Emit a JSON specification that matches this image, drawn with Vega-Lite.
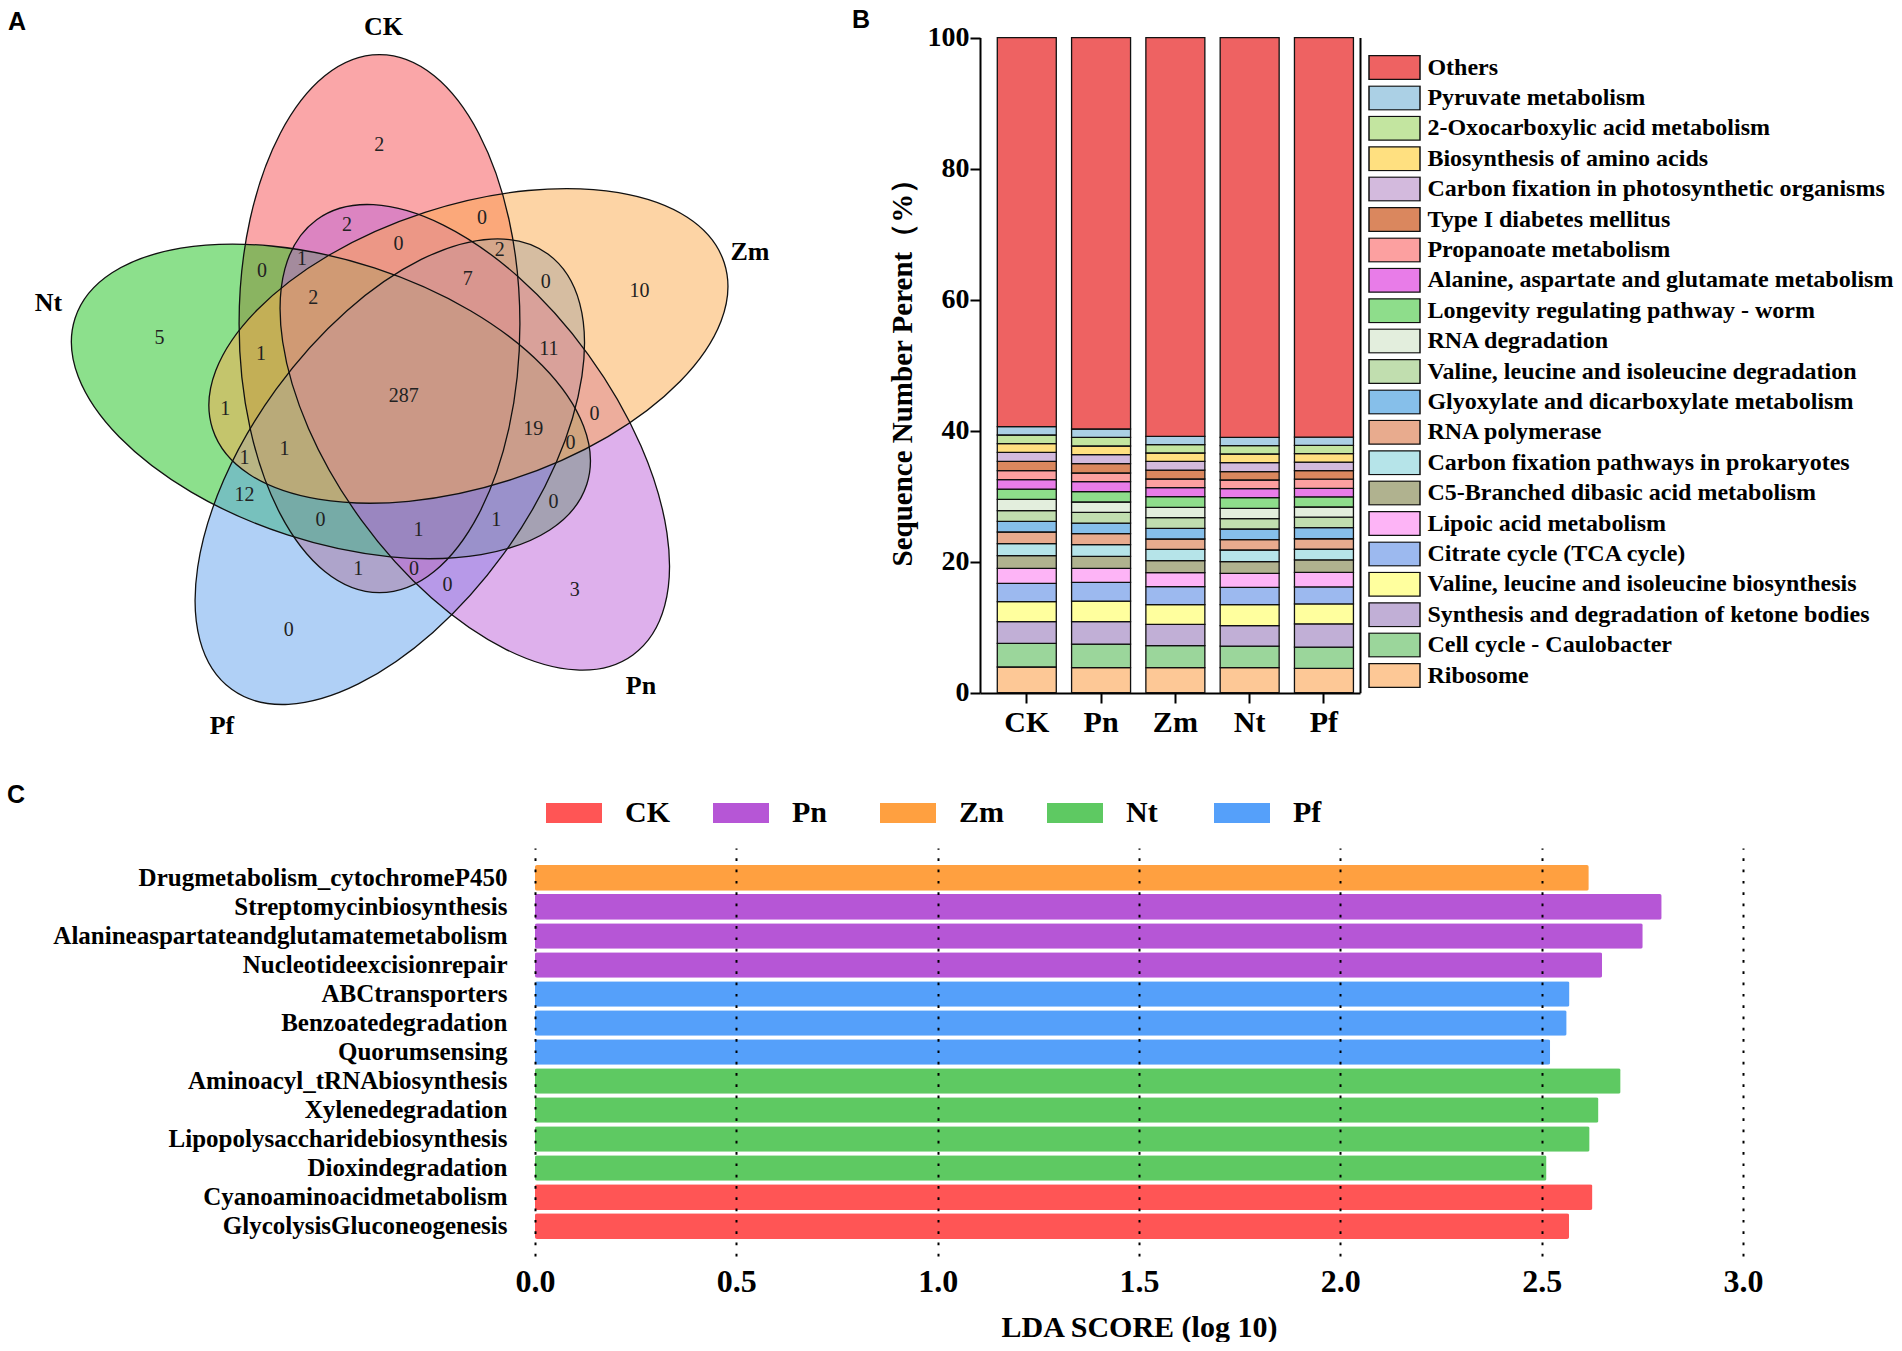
{
  "$schema": "https://vega.github.io/schema/vega-lite/v6.json",
  "padding": 0,
  "background": "white",
  "config": {"view": {"stroke": null}, "font": "Liberation Serif"},
  "columns": 2,
  "bounds": "flush",
  "spacing": {"row": 155, "column": 0},
  "resolve": {"scale": {"color": "independent", "fill": "independent"}, "legend": {"color": "independent", "fill": "independent"}},
  "datasets": {
    "venn_sets": [
      {"set": "CK", "cx": 379.5, "cy": 323.7, "rotation": 0},
      {"set": "Nt", "cx": 330.9, "cy": 401.4, "rotation": 288},
      {"set": "Pf", "cx": 389.8, "cy": 471.7, "rotation": 216},
      {"set": "Pn", "cx": 474.8, "cy": 437.3, "rotation": 144},
      {"set": "Zm", "cx": 468.4, "cy": 345.9, "rotation": 72}
    ],
    "venn_counts": [
      {"count": "2", "x": 379.3, "y": 145.2},
      {"count": "2", "x": 347.1, "y": 225.1},
      {"count": "0", "x": 482.0, "y": 218.4},
      {"count": "0", "x": 398.5, "y": 244.3},
      {"count": "2", "x": 499.8, "y": 250.1},
      {"count": "1", "x": 302.0, "y": 258.6},
      {"count": "0", "x": 261.9, "y": 271.1},
      {"count": "7", "x": 467.7, "y": 278.7},
      {"count": "0", "x": 545.8, "y": 282.2},
      {"count": "10", "x": 639.5, "y": 291.2},
      {"count": "2", "x": 313.2, "y": 297.9},
      {"count": "5", "x": 159.6, "y": 338.0},
      {"count": "1", "x": 261.0, "y": 353.7},
      {"count": "11", "x": 548.9, "y": 349.2},
      {"count": "287", "x": 403.8, "y": 396.1},
      {"count": "1", "x": 225.3, "y": 408.6},
      {"count": "0", "x": 594.5, "y": 413.9},
      {"count": "19", "x": 533.3, "y": 428.7},
      {"count": "0", "x": 570.4, "y": 442.9},
      {"count": "1", "x": 284.6, "y": 448.8},
      {"count": "1", "x": 244.5, "y": 457.7},
      {"count": "12", "x": 244.5, "y": 495.2},
      {"count": "0", "x": 553.4, "y": 502.3},
      {"count": "0", "x": 320.4, "y": 520.2},
      {"count": "1", "x": 496.3, "y": 520.2},
      {"count": "1", "x": 418.6, "y": 530.0},
      {"count": "1", "x": 358.3, "y": 569.3},
      {"count": "0", "x": 414.1, "y": 569.3},
      {"count": "0", "x": 447.6, "y": 584.5},
      {"count": "3", "x": 574.8, "y": 590.3},
      {"count": "0", "x": 288.7, "y": 630.4}
    ],
    "venn_labels": [
      {"name": "CK", "x": 383.5, "y": 27},
      {"name": "Zm", "x": 750, "y": 252.3},
      {"name": "Nt", "x": 48.5, "y": 303.3},
      {"name": "Pn", "x": 641, "y": 686},
      {"name": "Pf", "x": 222, "y": 726}
    ],
    "panel_letters": [
      {"letter": "A", "x": 17, "y": 22},
      {"letter": "B", "x": 861, "y": 20},
      {"letter": "C", "x": 16, "y": 795}
    ],
    "composition": [
      {"sample": "CK", "pathway": "Ribosome", "rank": 1, "value": 3.92},
      {"sample": "CK", "pathway": "Cell cycle - Caulobacter", "rank": 2, "value": 3.61},
      {"sample": "CK", "pathway": "Synthesis and degradation of ketone bodies", "rank": 3, "value": 3.31},
      {"sample": "CK", "pathway": "Valine, leucine and isoleucine biosynthesis", "rank": 4, "value": 3.05},
      {"sample": "CK", "pathway": "Citrate cycle (TCA cycle)", "rank": 5, "value": 2.80},
      {"sample": "CK", "pathway": "Lipoic acid metabolism", "rank": 6, "value": 2.29},
      {"sample": "CK", "pathway": "C5-Branched dibasic acid metabolism", "rank": 7, "value": 1.94},
      {"sample": "CK", "pathway": "Carbon fixation pathways in prokaryotes", "rank": 8, "value": 1.83},
      {"sample": "CK", "pathway": "RNA polymerase", "rank": 9, "value": 1.78},
      {"sample": "CK", "pathway": "Glyoxylate and dicarboxylate metabolism", "rank": 10, "value": 1.63},
      {"sample": "CK", "pathway": "Valine, leucine and isoleucine degradation", "rank": 11, "value": 1.63},
      {"sample": "CK", "pathway": "RNA degradation", "rank": 12, "value": 1.73},
      {"sample": "CK", "pathway": "Longevity regulating pathway - worm", "rank": 13, "value": 1.57},
      {"sample": "CK", "pathway": "Alanine, aspartate and glutamate metabolism", "rank": 14, "value": 1.43},
      {"sample": "CK", "pathway": "Propanoate metabolism", "rank": 15, "value": 1.37},
      {"sample": "CK", "pathway": "Type I diabetes mellitus", "rank": 16, "value": 1.43},
      {"sample": "CK", "pathway": "Carbon fixation in photosynthetic organisms", "rank": 17, "value": 1.37},
      {"sample": "CK", "pathway": "Biosynthesis of amino acids", "rank": 18, "value": 1.33},
      {"sample": "CK", "pathway": "2-Oxocarboxylic acid metabolism", "rank": 19, "value": 1.32},
      {"sample": "CK", "pathway": "Pyruvate metabolism", "rank": 20, "value": 1.27},
      {"sample": "CK", "pathway": "Others", "rank": 21, "value": 59.39},
      {"sample": "Pn", "pathway": "Ribosome", "rank": 1, "value": 3.82},
      {"sample": "Pn", "pathway": "Cell cycle - Caulobacter", "rank": 2, "value": 3.61},
      {"sample": "Pn", "pathway": "Synthesis and degradation of ketone bodies", "rank": 3, "value": 3.41},
      {"sample": "Pn", "pathway": "Valine, leucine and isoleucine biosynthesis", "rank": 4, "value": 3.15},
      {"sample": "Pn", "pathway": "Citrate cycle (TCA cycle)", "rank": 5, "value": 2.85},
      {"sample": "Pn", "pathway": "Lipoic acid metabolism", "rank": 6, "value": 2.14},
      {"sample": "Pn", "pathway": "C5-Branched dibasic acid metabolism", "rank": 7, "value": 1.83},
      {"sample": "Pn", "pathway": "Carbon fixation pathways in prokaryotes", "rank": 8, "value": 1.79},
      {"sample": "Pn", "pathway": "RNA polymerase", "rank": 9, "value": 1.67},
      {"sample": "Pn", "pathway": "Glyoxylate and dicarboxylate metabolism", "rank": 10, "value": 1.63},
      {"sample": "Pn", "pathway": "Valine, leucine and isoleucine degradation", "rank": 11, "value": 1.63},
      {"sample": "Pn", "pathway": "RNA degradation", "rank": 12, "value": 1.58},
      {"sample": "Pn", "pathway": "Longevity regulating pathway - worm", "rank": 13, "value": 1.58},
      {"sample": "Pn", "pathway": "Alanine, aspartate and glutamate metabolism", "rank": 14, "value": 1.52},
      {"sample": "Pn", "pathway": "Propanoate metabolism", "rank": 15, "value": 1.33},
      {"sample": "Pn", "pathway": "Type I diabetes mellitus", "rank": 16, "value": 1.42},
      {"sample": "Pn", "pathway": "Carbon fixation in photosynthetic organisms", "rank": 17, "value": 1.38},
      {"sample": "Pn", "pathway": "Biosynthesis of amino acids", "rank": 18, "value": 1.32},
      {"sample": "Pn", "pathway": "2-Oxocarboxylic acid metabolism", "rank": 19, "value": 1.32},
      {"sample": "Pn", "pathway": "Pyruvate metabolism", "rank": 20, "value": 1.27},
      {"sample": "Pn", "pathway": "Others", "rank": 21, "value": 59.75},
      {"sample": "Zm", "pathway": "Ribosome", "rank": 1, "value": 3.82},
      {"sample": "Zm", "pathway": "Cell cycle - Caulobacter", "rank": 2, "value": 3.36},
      {"sample": "Zm", "pathway": "Synthesis and degradation of ketone bodies", "rank": 3, "value": 3.25},
      {"sample": "Zm", "pathway": "Valine, leucine and isoleucine biosynthesis", "rank": 4, "value": 3.01},
      {"sample": "Zm", "pathway": "Citrate cycle (TCA cycle)", "rank": 5, "value": 2.74},
      {"sample": "Zm", "pathway": "Lipoic acid metabolism", "rank": 6, "value": 2.14},
      {"sample": "Zm", "pathway": "C5-Branched dibasic acid metabolism", "rank": 7, "value": 1.83},
      {"sample": "Zm", "pathway": "Carbon fixation pathways in prokaryotes", "rank": 8, "value": 1.73},
      {"sample": "Zm", "pathway": "RNA polymerase", "rank": 9, "value": 1.58},
      {"sample": "Zm", "pathway": "Glyoxylate and dicarboxylate metabolism", "rank": 10, "value": 1.63},
      {"sample": "Zm", "pathway": "Valine, leucine and isoleucine degradation", "rank": 11, "value": 1.63},
      {"sample": "Zm", "pathway": "RNA degradation", "rank": 12, "value": 1.58},
      {"sample": "Zm", "pathway": "Longevity regulating pathway - worm", "rank": 13, "value": 1.62},
      {"sample": "Zm", "pathway": "Alanine, aspartate and glutamate metabolism", "rank": 14, "value": 1.38},
      {"sample": "Zm", "pathway": "Propanoate metabolism", "rank": 15, "value": 1.32},
      {"sample": "Zm", "pathway": "Type I diabetes mellitus", "rank": 16, "value": 1.37},
      {"sample": "Zm", "pathway": "Carbon fixation in photosynthetic organisms", "rank": 17, "value": 1.33},
      {"sample": "Zm", "pathway": "Biosynthesis of amino acids", "rank": 18, "value": 1.27},
      {"sample": "Zm", "pathway": "2-Oxocarboxylic acid metabolism", "rank": 19, "value": 1.27},
      {"sample": "Zm", "pathway": "Pyruvate metabolism", "rank": 20, "value": 1.27},
      {"sample": "Zm", "pathway": "Others", "rank": 21, "value": 60.87},
      {"sample": "Nt", "pathway": "Ribosome", "rank": 1, "value": 3.82},
      {"sample": "Nt", "pathway": "Cell cycle - Caulobacter", "rank": 2, "value": 3.30},
      {"sample": "Nt", "pathway": "Synthesis and degradation of ketone bodies", "rank": 3, "value": 3.11},
      {"sample": "Nt", "pathway": "Valine, leucine and isoleucine biosynthesis", "rank": 4, "value": 3.21},
      {"sample": "Nt", "pathway": "Citrate cycle (TCA cycle)", "rank": 5, "value": 2.64},
      {"sample": "Nt", "pathway": "Lipoic acid metabolism", "rank": 6, "value": 2.14},
      {"sample": "Nt", "pathway": "C5-Branched dibasic acid metabolism", "rank": 7, "value": 1.78},
      {"sample": "Nt", "pathway": "Carbon fixation pathways in prokaryotes", "rank": 8, "value": 1.78},
      {"sample": "Nt", "pathway": "RNA polymerase", "rank": 9, "value": 1.58},
      {"sample": "Nt", "pathway": "Glyoxylate and dicarboxylate metabolism", "rank": 10, "value": 1.63},
      {"sample": "Nt", "pathway": "Valine, leucine and isoleucine degradation", "rank": 11, "value": 1.57},
      {"sample": "Nt", "pathway": "RNA degradation", "rank": 12, "value": 1.58},
      {"sample": "Nt", "pathway": "Longevity regulating pathway - worm", "rank": 13, "value": 1.63},
      {"sample": "Nt", "pathway": "Alanine, aspartate and glutamate metabolism", "rank": 14, "value": 1.38},
      {"sample": "Nt", "pathway": "Propanoate metabolism", "rank": 15, "value": 1.32},
      {"sample": "Nt", "pathway": "Type I diabetes mellitus", "rank": 16, "value": 1.27},
      {"sample": "Nt", "pathway": "Carbon fixation in photosynthetic organisms", "rank": 17, "value": 1.37},
      {"sample": "Nt", "pathway": "Biosynthesis of amino acids", "rank": 18, "value": 1.33},
      {"sample": "Nt", "pathway": "2-Oxocarboxylic acid metabolism", "rank": 19, "value": 1.27},
      {"sample": "Nt", "pathway": "Pyruvate metabolism", "rank": 20, "value": 1.27},
      {"sample": "Nt", "pathway": "Others", "rank": 21, "value": 61.02},
      {"sample": "Pf", "pathway": "Ribosome", "rank": 1, "value": 3.70},
      {"sample": "Pf", "pathway": "Cell cycle - Caulobacter", "rank": 2, "value": 3.26},
      {"sample": "Pf", "pathway": "Synthesis and degradation of ketone bodies", "rank": 3, "value": 3.55},
      {"sample": "Pf", "pathway": "Valine, leucine and isoleucine biosynthesis", "rank": 4, "value": 3.04},
      {"sample": "Pf", "pathway": "Citrate cycle (TCA cycle)", "rank": 5, "value": 2.59},
      {"sample": "Pf", "pathway": "Lipoic acid metabolism", "rank": 6, "value": 2.22},
      {"sample": "Pf", "pathway": "C5-Branched dibasic acid metabolism", "rank": 7, "value": 1.92},
      {"sample": "Pf", "pathway": "Carbon fixation pathways in prokaryotes", "rank": 8, "value": 1.62},
      {"sample": "Pf", "pathway": "RNA polymerase", "rank": 9, "value": 1.60},
      {"sample": "Pf", "pathway": "Glyoxylate and dicarboxylate metabolism", "rank": 10, "value": 1.70},
      {"sample": "Pf", "pathway": "Valine, leucine and isoleucine degradation", "rank": 11, "value": 1.60},
      {"sample": "Pf", "pathway": "RNA degradation", "rank": 12, "value": 1.55},
      {"sample": "Pf", "pathway": "Longevity regulating pathway - worm", "rank": 13, "value": 1.55},
      {"sample": "Pf", "pathway": "Alanine, aspartate and glutamate metabolism", "rank": 14, "value": 1.30},
      {"sample": "Pf", "pathway": "Propanoate metabolism", "rank": 15, "value": 1.40},
      {"sample": "Pf", "pathway": "Type I diabetes mellitus", "rank": 16, "value": 1.30},
      {"sample": "Pf", "pathway": "Carbon fixation in photosynthetic organisms", "rank": 17, "value": 1.30},
      {"sample": "Pf", "pathway": "Biosynthesis of amino acids", "rank": 18, "value": 1.30},
      {"sample": "Pf", "pathway": "2-Oxocarboxylic acid metabolism", "rank": 19, "value": 1.25},
      {"sample": "Pf", "pathway": "Pyruvate metabolism", "rank": 20, "value": 1.25},
      {"sample": "Pf", "pathway": "Others", "rank": 21, "value": 61.00}
    ],
    "lda": [
      {"pathway": "Drugmetabolism_cytochromeP450", "group": "Zm", "score": 2.617},
      {"pathway": "Streptomycinbiosynthesis", "group": "Pn", "score": 2.798},
      {"pathway": "Alanineaspartateandglutamatemetabolism", "group": "Pn", "score": 2.751},
      {"pathway": "Nucleotideexcisionrepair", "group": "Pn", "score": 2.650},
      {"pathway": "ABCtransporters", "group": "Pf", "score": 2.569},
      {"pathway": "Benzoatedegradation", "group": "Pf", "score": 2.562},
      {"pathway": "Quorumsensing", "group": "Pf", "score": 2.521},
      {"pathway": "Aminoacyl_tRNAbiosynthesis", "group": "Nt", "score": 2.696},
      {"pathway": "Xylenedegradation", "group": "Nt", "score": 2.641},
      {"pathway": "Lipopolysaccharidebiosynthesis", "group": "Nt", "score": 2.619},
      {"pathway": "Dioxindegradation", "group": "Nt", "score": 2.512},
      {"pathway": "Cyanoaminoacidmetabolism", "group": "CK", "score": 2.626},
      {"pathway": "GlycolysisGluconeogenesis", "group": "CK", "score": 2.568}
    ]
  },
  "concat": [
    {
      "width": 980,
      "height": 693,
      "layer": [
        {
          "data": {"name": "venn_sets"},
          "mark": {"type": "point", "shape": "M0,-1C0.2883,-1,0.522,-0.5523,0.522,0C0.522,0.5523,0.2883,1,0,1C-0.2883,1,-0.522,0.5523,-0.522,0C-0.522,-0.5523,-0.2883,-1,0,-1Z", "size": 289444, "filled": true, "opacity": 1, "fillOpacity": 0.5, "strokeWidth": 0},
          "encoding": {
            "x": {"field": "cx", "type": "quantitative", "scale": {"domain": [0, 980], "nice": false, "zero": false}, "axis": null},
            "y": {"field": "cy", "type": "quantitative", "scale": {"domain": [0, 693], "nice": false, "zero": false, "reverse": true}, "axis": null},
            "fill": {"field": "set", "type": "nominal", "scale": {"domain": ["CK", "Nt", "Pf", "Pn", "Zm"], "range": ["#F54D51", "#19C119", "#61A1ED", "#BD61D9", "#FBA94B"]}, "legend": null},
            "angle": {"field": "rotation", "type": "quantitative", "scale": {"domain": [0, 360], "range": [0, 360]}}
          }
        },
        {
          "data": {"name": "venn_sets"},
          "mark": {"type": "point", "shape": "M0,-1C0.2883,-1,0.522,-0.5523,0.522,0C0.522,0.5523,0.2883,1,0,1C-0.2883,1,-0.522,0.5523,-0.522,0C-0.522,-0.5523,-0.2883,-1,0,-1Z", "size": 289444, "filled": false, "opacity": 1, "stroke": "#111111", "strokeWidth": 1.3},
          "encoding": {
            "x": {"field": "cx", "type": "quantitative", "scale": {"domain": [0, 980], "nice": false, "zero": false}, "axis": null},
            "y": {"field": "cy", "type": "quantitative", "scale": {"domain": [0, 693], "nice": false, "zero": false, "reverse": true}, "axis": null},
            "angle": {"field": "rotation", "type": "quantitative", "scale": {"domain": [0, 360], "range": [0, 360]}}
          }
        },
        {
          "data": {"name": "venn_counts"},
          "mark": {"type": "text", "font": "Liberation Serif", "fontSize": 20, "color": "#222222"},
          "encoding": {
            "x": {"field": "x", "type": "quantitative", "scale": {"domain": [0, 980], "nice": false, "zero": false}, "axis": null},
            "y": {"field": "y", "type": "quantitative", "scale": {"domain": [0, 693], "nice": false, "zero": false, "reverse": true}, "axis": null},
            "text": {"field": "count"}
          }
        },
        {
          "data": {"name": "venn_labels"},
          "mark": {"type": "text", "font": "Liberation Serif", "fontSize": 26, "fontWeight": "bold", "color": "black"},
          "encoding": {
            "x": {"field": "x", "type": "quantitative", "scale": {"domain": [0, 980], "nice": false, "zero": false}, "axis": null},
            "y": {"field": "y", "type": "quantitative", "scale": {"domain": [0, 693], "nice": false, "zero": false, "reverse": true}, "axis": null},
            "text": {"field": "name"}
          }
        },
        {
          "data": {"name": "panel_letters"},
          "mark": {"type": "text", "font": "Liberation Sans", "fontSize": 25, "fontWeight": "bold", "color": "black"},
          "encoding": {
            "x": {"field": "x", "type": "quantitative", "scale": {"domain": [0, 980], "nice": false, "zero": false}, "axis": null},
            "y": {"field": "y", "type": "quantitative", "scale": {"domain": [0, 693], "nice": false, "zero": false, "reverse": true}, "axis": null},
            "text": {"field": "letter"}
          }
        }
      ]
    },
    {
      "width": 380,
      "height": 693,
      "layer": [
        {
          "data": {"name": "composition"},
          "mark": {"type": "bar", "stroke": "#111111", "strokeWidth": 1.3},
          "encoding": {
            "x": {
              "field": "sample", "type": "nominal", "sort": ["CK", "Pn", "Zm", "Nt", "Pf"],
              "scale": {"paddingInner": 0.206, "paddingOuter": 0.1605, "align": 0.725},
              "axis": {"title": null, "labelAngle": 0, "labelFontSize": 30, "labelFontWeight": "bold", "labelFont": "Liberation Serif", "labelColor": "black", "tickColor": "black", "tickWidth": 2, "tickSize": 10, "domainColor": "black", "domainWidth": 2, "labelPadding": 4}
            },
            "y": {
              "field": "value", "type": "quantitative", "stack": "zero",
              "scale": {"domain": [0, 100], "range": [692.7, 37.6], "nice": false},
              "axis": {"values": [0, 20, 40, 60, 80, 100], "grid": false, "title": "Sequence Number Perent（%）", "titleFontSize": 29, "titleFontWeight": "bold", "titleFont": "Liberation Serif", "titleColor": "black", "titlePadding": 10, "labelFontSize": 28, "labelFontWeight": "bold", "labelFont": "Liberation Serif", "labelColor": "black", "tickColor": "black", "tickWidth": 2, "tickSize": 10, "domainColor": "black", "domainWidth": 2, "labelPadding": 1}
            },
            "color": {
              "field": "pathway", "type": "nominal",
              "scale": {
                "domain": ["Others", "Pyruvate metabolism", "2-Oxocarboxylic acid metabolism", "Biosynthesis of amino acids", "Carbon fixation in photosynthetic organisms", "Type I diabetes mellitus", "Propanoate metabolism", "Alanine, aspartate and glutamate metabolism", "Longevity regulating pathway - worm", "RNA degradation", "Valine, leucine and isoleucine degradation", "Glyoxylate and dicarboxylate metabolism", "RNA polymerase", "Carbon fixation pathways in prokaryotes", "C5-Branched dibasic acid metabolism", "Lipoic acid metabolism", "Citrate cycle (TCA cycle)", "Valine, leucine and isoleucine biosynthesis", "Synthesis and degradation of ketone bodies", "Cell cycle - Caulobacter", "Ribosome"],
                "range": ["#EE6262", "#ABD0E5", "#C3E5A0", "#FFE080", "#D3BADD", "#DA875E", "#FCA0A0", "#E87CE8", "#8EDD8B", "#E3EEDD", "#C1DEAF", "#86BFEA", "#E8AB8E", "#B6E4E9", "#B0B28F", "#FDB4F6", "#9CB9EF", "#FFFF9E", "#C1AFD6", "#9BD69B", "#FDC896"]
              },
              "legend": {"title": null, "orient": "none", "legendX": 388, "legendY": 55, "direction": "vertical", "symbolType": "M-1,-0.47L1,-0.47L1,0.47L-1,0.47Z", "symbolSize": 2601, "symbolStrokeColor": "#111111", "symbolStrokeWidth": 1.5, "symbolOpacity": 1, "clipHeight": 25, "rowPadding": 5.4, "labelFontSize": 24, "labelFont": "Liberation Serif", "labelFontWeight": "bold", "labelColor": "black", "labelOffset": 6.4, "labelLimit": 700, "padding": 0}
            },
            "order": {"field": "rank", "type": "quantitative", "sort": "ascending"}
          }
        },
        {
          "data": {"values": [{"base": 0}]},
          "mark": {"type": "rule", "opacity": 0},
          "encoding": {
            "y": {"field": "base", "type": "quantitative", "axis": {"orient": "right", "labels": false, "ticks": false, "title": null, "grid": false, "domainColor": "black", "domainWidth": 2}}
          }
        }
      ],
      "resolve": {"axis": {"y": "independent"}}
    },
    {
      "width": 980,
      "height": 408,
      "data": {"name": "lda"},
      "mark": {"type": "bar", "cornerRadius": 2},
      "encoding": {
        "y": {
          "field": "pathway", "type": "nominal",
          "sort": ["Drugmetabolism_cytochromeP450", "Streptomycinbiosynthesis", "Alanineaspartateandglutamatemetabolism", "Nucleotideexcisionrepair", "ABCtransporters", "Benzoatedegradation", "Quorumsensing", "Aminoacyl_tRNAbiosynthesis", "Xylenedegradation", "Lipopolysaccharidebiosynthesis", "Dioxindegradation", "Cyanoaminoacidmetabolism", "GlycolysisGluconeogenesis"],
          "scale": {"paddingInner": 0.114, "paddingOuter": 0.59},
          "axis": {"title": null, "domain": false, "ticks": false, "offset": -535, "labelPadding": 28, "labelFontSize": 25, "labelFontWeight": "bold", "labelFont": "Liberation Serif", "labelColor": "black", "labelLimit": 700}
        },
        "x": {
          "field": "score", "type": "quantitative",
          "scale": {"domain": [0, 3], "range": [535, 1743], "nice": false},
          "axis": {"values": [0, 0.5, 1, 1.5, 2, 2.5, 3], "format": ".1f", "labelFlush": false, "grid": true, "gridColor": "black", "gridDash": [2.7, 8.6], "gridWidth": 2, "gridOpacity": 1, "domain": false, "ticks": false, "zindex": 1, "labelFontSize": 32, "labelFontWeight": "bold", "labelFont": "Liberation Serif", "labelColor": "black", "labelPadding": 10, "title": "LDA SCORE (log 10)", "titleFontSize": 30, "titleFontWeight": "bold", "titleFont": "Liberation Serif", "titleColor": "black", "titlePadding": 15}
        },
        "color": {
          "field": "group", "type": "nominal",
          "scale": {"domain": ["CK", "Pn", "Zm", "Nt", "Pf"], "range": ["#FF5555", "#B656D6", "#FFA040", "#5EC962", "#55A0FA"]},
          "legend": {"title": null, "orient": "none", "legendX": 546, "legendY": -63, "direction": "horizontal", "symbolType": "M-1,-0.357L1,-0.357L1,0.357L-1,0.357Z", "symbolSize": 3136, "symbolStrokeWidth": 0, "symbolOpacity": 1, "labelFontSize": 30, "labelFontWeight": "bold", "labelFont": "Liberation Serif", "labelColor": "black", "labelOffset": 23, "columnPadding": 43, "gridAlign": "all", "padding": 0}
        }
      }
    }
  ]
}
